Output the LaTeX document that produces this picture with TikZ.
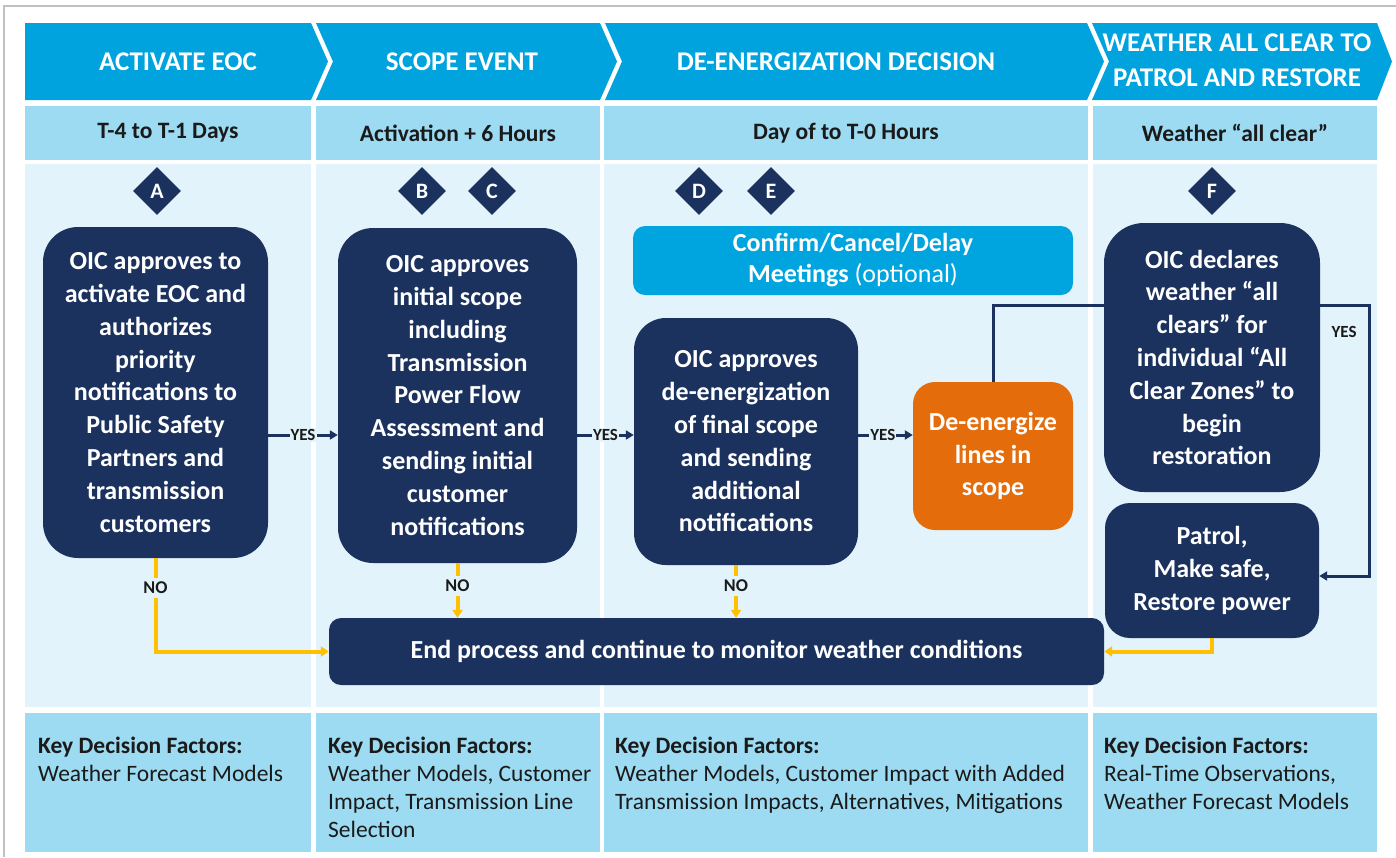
\documentclass[tikz,border=0pt]{standalone}
\usepackage{fontspec}
\setmainfont{Carlito}
\usetikzlibrary{arrows.meta,shapes.geometric}
\definecolor{chev}{HTML}{00A3DE}
\definecolor{lightb}{HTML}{9DDBF2}
\definecolor{bodyb}{HTML}{E2F3FB}
\definecolor{navy}{HTML}{1B325F}
\definecolor{orng}{HTML}{E46C0A}
\definecolor{confb}{HTML}{00A5DF}
\definecolor{yell}{HTML}{FFC000}
\definecolor{framegray}{HTML}{C0C0C0}
\definecolor{txt}{HTML}{1A1A1A}
\begin{document}
\begin{tikzpicture}[x=1pt,y=-1pt,
  hdrtext/.style={text=white,font=\fontsize{27}{35}\selectfont\bfseries,align=center,inner sep=0pt},
  subtext/.style={text=txt,font=\fontsize{23.5}{26}\selectfont\bfseries,inner sep=0pt},
  proc/.style={fill=navy,text=white,font=\fontsize{26}{32.8}\selectfont\bfseries,align=center,inner sep=0pt},
  badge/.style={diamond,fill=navy,text=white,font=\fontsize{22}{22}\selectfont\bfseries,minimum width=48pt,minimum height=48pt,inner sep=0pt},
  keytext/.style={text=txt,font=\fontsize{23.5}{28}\selectfont,align=left,anchor=north west,inner sep=0pt},
  navyline/.style={draw=navy,line width=3pt},
  navyarrow/.style={draw=navy,line width=3pt,-{Triangle[length=8pt,width=9pt]}},
  yelarrow/.style={draw=yell,line width=4pt,-{Triangle[length=8pt,width=10pt]}},
  yeslabel/.style={fill=bodyb,text=txt,font=\fontsize{17}{17}\selectfont\bfseries,inner sep=1pt},
  nolabel/.style={fill=bodyb,text=txt,font=\fontsize{18}{18}\selectfont\bfseries,inner xsep=2pt,inner ysep=4pt}
]
\useasboundingbox (0,0) rectangle (1396,857);
\fill[white] (0,0) rectangle (1396,857);
% frame
\draw[framegray,line width=2pt] (4,857) -- (4,6) -- (1396,6);
% header chevrons
\fill[chev] (25,23) -- (311,23) -- (328,61.5) -- (311,100) -- (25,100) -- cycle;
\fill[chev] (316,23) -- (600,23) -- (617,61.5) -- (600,100) -- (316,100) -- (333,61.5) -- cycle;
\fill[chev] (605,23) -- (1087,23) -- (1104,61.5) -- (1087,100) -- (605,100) -- (622,61.5) -- cycle;
\fill[chev] (1092,23) -- (1377,23) -- (1392,61.5) -- (1377,100) -- (1092,100) -- (1109,61.5) -- cycle;
\node[hdrtext] (h1) at (178,62) {ACTIVATE EOC};
\node[hdrtext] (h2) at (462,62) {SCOPE EVENT};
\node[hdrtext] (h3) at (836,62) {DE-ENERGIZATION DECISION};
\node[hdrtext] (h4) at (1237,60) {WEATHER ALL CLEAR TO\\PATROL AND RESTORE};
% sub-header row
\fill[lightb] (25,106) rectangle (311,160);
\fill[lightb] (316,106) rectangle (600,160);
\fill[lightb] (604,106) rectangle (1088,160);
\fill[lightb] (1093,106) rectangle (1377,160);
\node[subtext] (s1) at (168,133) {T-4 to T-1 Days};
\node[subtext] (s2) at (458,133) {Activation + 6 Hours};
\node[subtext] (s3) at (846,133) {Day of to T-0 Hours};
\node[subtext] (s4) at (1235,133) {Weather “all clear”};
% body row
\fill[bodyb] (25,164) rectangle (311,707);
\fill[bodyb] (316,164) rectangle (600,707);
\fill[bodyb] (604,164) rectangle (1088,707);
\fill[bodyb] (1093,164) rectangle (1377,707);
% bottom row
\fill[lightb] (25,713) rectangle (311,852);
\fill[lightb] (316,713) rectangle (600,852);
\fill[lightb] (604,713) rectangle (1088,852);
\fill[lightb] (1093,713) rectangle (1377,852);
\node[keytext] (k1) at (38,737) {\textbf{Key Decision Factors:}\\Weather Forecast Models};
\node[keytext] (k2) at (328,737) {\textbf{Key Decision Factors:}\\Weather Models, Customer\\Impact, Transmission Line\\Selection};
\node[keytext] (k3) at (615,737) {\textbf{Key Decision Factors:}\\Weather Models, Customer Impact with Added\\Transmission Impacts, Alternatives, Mitigations};
\node[keytext] (k4) at (1104,737) {\textbf{Key Decision Factors:}\\Real-Time Observations,\\Weather Forecast Models};
% badges
\node[badge] (dA) at (157,191) {A};
\node[badge] (dB) at (422,191) {B};
\node[badge] (dC) at (492,191) {C};
\node[badge] (dD) at (699,191) {D};
\node[badge] (dE) at (771,191) {E};
\node[badge] (dF) at (1212,191) {F};
% process boxes
\node[proc,rounded corners=35pt,minimum width=225pt,minimum height=331pt] (b1) at (155.5,392.5)
  {OIC approves to\\activate EOC and\\authorizes\\priority\\notifications to\\Public Safety\\Partners and\\transmission\\customers};
\node[proc,rounded corners=35pt,minimum width=239pt,minimum height=335pt] (b2) at (457.5,395.5)
  {OIC approves\\initial scope\\including\\Transmission\\Power Flow\\Assessment and\\sending initial\\customer\\notifications};
\node[proc,rounded corners=32pt,minimum width=224pt,minimum height=247pt] (b3) at (746,441.5)
  {OIC approves\\de-energization\\of final scope\\and sending\\additional\\notifications};
\node[proc,fill=orng,rounded corners=22pt,minimum width=160pt,minimum height=148pt] (or) at (993,456)
  {De-energize\\lines in\\scope};
\node[proc,fill=confb,rounded corners=12pt,minimum width=440pt,minimum height=69pt,font=\fontsize{26}{31}\selectfont\bfseries] (cf) at (853,260.5)
  {Confirm/Cancel/Delay\\Meetings {\mdseries (optional)}};
\node[proc,rounded corners=40pt,minimum width=216pt,minimum height=269pt] (bF) at (1212,357.5)
  {OIC declares\\weather “all\\clears” for\\individual “All\\Clear Zones” to\\begin\\restoration};
\node[proc,rounded corners=25pt,minimum width=214pt,minimum height=135pt] (pt) at (1212,570.5)
  {Patrol,\\Make safe,\\Restore power};
\node[proc,rounded corners=12pt,minimum width=775pt,minimum height=67pt] (en) at (716.5,651.5)
  {End process and continue to monitor weather conditions};
% YES connectors
\coordinate (yesrow) at (0,435);
\draw[navyarrow] (b1.east |- yesrow) -- node[yeslabel] (y1) {YES} (b2.west |- yesrow);
\draw[navyarrow] (b2.east |- yesrow) -- node[yeslabel] (y2) {YES} (b3.west |- yesrow);
\draw[navyarrow] (b3.east |- yesrow) -- node[yeslabel,pos=0.45] (y3) {YES} (or.west |- yesrow);
\coordinate (toprow) at (0,305);
\draw[navyline] (or.north) |- (bF.west |- toprow);
\coordinate (yturn) at (1369,576);
\draw[navyarrow] (bF.east |- toprow) -| (yturn) -- (pt.east |- yturn);
\node[text=txt,font=\fontsize{17}{17}\selectfont\bfseries,inner sep=0pt] (y4) at (1344,332) {YES};
% NO connectors
\draw[yelarrow] (b1.south) |- (en.west);
\node[nolabel] (n1) at (155.5,588) {NO};
\draw[yelarrow] (b2.south) -- (b2.south |- en.north);
\node[nolabel] (n2) at (457.5,586) {NO};
\draw[yelarrow] ([xshift=-10pt]b3.south) -- ([xshift=-10pt]b3.south |- en.north);
\node[nolabel] (n3) at (736,586) {NO};
\draw[yelarrow] (pt.south) |- (en.east);
\end{tikzpicture}
\end{document}
